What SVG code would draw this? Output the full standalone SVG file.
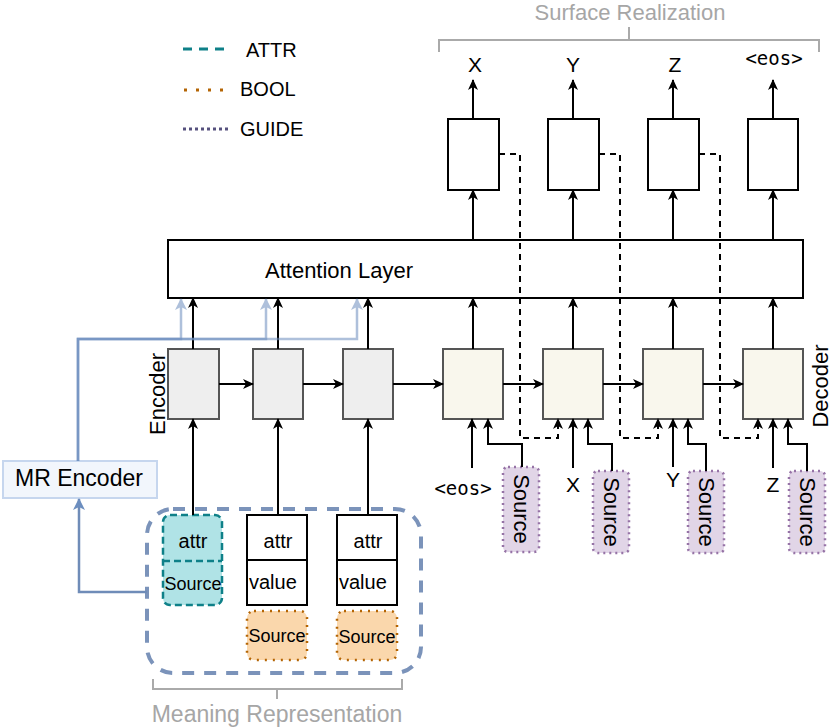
<svg xmlns="http://www.w3.org/2000/svg" width="832" height="728" viewBox="0 0 832 728">
<style>
text{font-family:"Liberation Sans",Arial,sans-serif;fill:#000}
.mono{font-family:"DejaVu Sans Mono","Liberation Mono",monospace}
.gray{fill:#a6a6a6}
.ln{fill:none;stroke:#000;stroke-width:2}
.dash{fill:none;stroke:#000;stroke-width:2;stroke-dasharray:6 5}
.enc{fill:#eeeeee;stroke:#555;stroke-width:2}
.dec{fill:#f9f7ed;stroke:#555;stroke-width:2}
.out{fill:#fff;stroke:#000;stroke-width:2}
.src{fill:#e1d5e7;stroke:#9673a6;stroke-width:2.5;stroke-dasharray:2 4}
.bool{fill:#fad7ac;stroke:#b46504;stroke-width:2.5;stroke-dasharray:2 6}
.attr{fill:#b0e3e6;stroke:#0e8088;stroke-width:2.5;stroke-dasharray:7 4}
.brk{fill:none;stroke:#aaaaaa;stroke-width:2}
.blue{fill:none;stroke:#6c8ebf;stroke-width:2.5}
</style>
<defs>
<marker id="ah" viewBox="0 0 11 10" refX="10" refY="5" markerWidth="11" markerHeight="10" markerUnits="userSpaceOnUse" orient="auto">
<path d="M0,0 L11,5 L0,10 L3,5 Z" fill="#000"/>
</marker>
<marker id="ahb" viewBox="0 0 12 12" refX="11" refY="6" markerWidth="12" markerHeight="12" markerUnits="userSpaceOnUse" orient="auto">
<path d="M0,0 L12,6 L0,12 L3,6 Z" fill="#6c8ebf"/>
</marker>
</defs>

<!-- Legend -->
<g id="legend">
<line x1="183" y1="49" x2="229" y2="49" stroke="#0e8088" stroke-width="3" stroke-dasharray="9 7"/>
<text x="246" y="57" font-size="20">ATTR</text>
<line x1="184" y1="90" x2="231" y2="90" stroke="#b46504" stroke-width="3" stroke-dasharray="3 9"/>
<text x="240" y="96" font-size="20">BOOL</text>
<line x1="183" y1="129" x2="231" y2="129" stroke="#56517e" stroke-width="3" stroke-dasharray="3 3"/>
<text x="240" y="136" font-size="20">GUIDE</text>
</g>

<!-- Surface Realization bracket -->
<g id="surface-realization">
<path class="brk" d="M439,52 V40 H819 V52 M629,40 V27"/>
<text class="gray" x="630" y="20" font-size="22" text-anchor="middle">Surface Realization</text>
</g>

<!-- Meaning Representation bracket -->
<g id="meaning-representation">
<path class="brk" d="M153,679 V689 H402 V679 M277,689 V699"/>
<text class="gray" x="277" y="722" font-size="23" text-anchor="middle">Meaning Representation</text>
</g>

<!-- Output labels -->
<g id="outputs">
<text x="475" y="72" font-size="21" text-anchor="middle">X</text>
<text x="573" y="72" font-size="21" text-anchor="middle">Y</text>
<text x="675" y="72" font-size="21" text-anchor="middle">Z</text>
<text class="mono" x="774" y="65" font-size="19" text-anchor="middle">&lt;eos&gt;</text>
</g>

<!-- Output boxes -->
<g id="out1"><rect class="out" x="448" y="119" width="51" height="71"/></g>
<g id="out2"><rect class="out" x="548" y="119" width="51" height="71"/></g>
<g id="out3"><rect class="out" x="648" y="119" width="51" height="71"/></g>
<g id="out4"><rect class="out" x="748" y="119" width="50" height="71"/></g>

<!-- Attention layer -->
<g id="attention"><rect class="out" x="168" y="240" width="635" height="58"/>
<text x="339" y="278" font-size="22" text-anchor="middle">Attention Layer</text></g>

<!-- Encoder boxes -->
<g id="enc1"><rect class="enc" x="168" y="349" width="51" height="70"/></g>
<g id="enc2"><rect class="enc" x="253" y="349" width="50" height="70"/></g>
<g id="enc3"><rect class="enc" x="343" y="349" width="50" height="70"/></g>
<text x="165" y="394" font-size="22" text-anchor="middle" transform="rotate(-90 165 394)">Encoder</text>

<!-- Decoder boxes -->
<g id="dec1"><rect class="dec" x="443" y="349" width="60" height="70"/></g>
<g id="dec2"><rect class="dec" x="543" y="349" width="60" height="70"/></g>
<g id="dec3"><rect class="dec" x="643" y="349" width="60" height="70"/></g>
<g id="dec4"><rect class="dec" x="743" y="349" width="60" height="70"/></g>
<text x="828" y="386" font-size="22" text-anchor="middle" transform="rotate(-90 828 386)">Decoder</text>

<!-- Decoder input labels -->
<g id="dec-inputs">
<text class="mono" x="463" y="495" font-size="19" text-anchor="middle">&lt;eos&gt;</text>
<text x="573" y="492" font-size="21" text-anchor="middle">X</text>
<text x="673" y="487" font-size="21" text-anchor="middle">Y</text>
<text x="773" y="492" font-size="21" text-anchor="middle">Z</text>
</g>

<!-- Source (guide) boxes -->
<g id="src1"><rect class="src" x="503" y="467" width="36" height="85" rx="5"/>
<text x="521" y="509" font-size="22" text-anchor="middle" dominant-baseline="central" transform="rotate(90 521 509)">Source</text></g>
<g id="src2"><rect class="src" x="593" y="471" width="36" height="82" rx="5"/>
<text x="611" y="512" font-size="22" text-anchor="middle" dominant-baseline="central" transform="rotate(90 611 512)">Source</text></g>
<g id="src3"><rect class="src" x="688" y="471" width="36" height="82" rx="5"/>
<text x="706" y="512" font-size="22" text-anchor="middle" dominant-baseline="central" transform="rotate(90 706 512)">Source</text></g>
<g id="src4"><rect class="src" x="789" y="471" width="36" height="82" rx="5"/>
<text x="807" y="512" font-size="22" text-anchor="middle" dominant-baseline="central" transform="rotate(90 807 512)">Source</text></g>

<!-- MR Encoder -->
<g id="mr-encoder"><rect x="3" y="461" width="154" height="37" fill="#f2f6fc" stroke="#c6d6ee" stroke-width="2"/>
<text x="79" y="486" font-size="23" text-anchor="middle">MR Encoder</text></g>

<!-- MR container -->
<g id="mr-container"><rect x="147" y="509" width="274" height="164" rx="26" fill="none" stroke="#7b93ba" stroke-width="4" stroke-dasharray="12 10"/></g>

<!-- MR items -->
<g id="attr-source">
<rect class="attr" x="163" y="515" width="59" height="90" rx="7"/>
<line x1="163" y1="561" x2="222" y2="561" stroke="#0e8088" stroke-width="2.5" stroke-dasharray="7 4"/>
<text x="193" y="548" font-size="20" text-anchor="middle">attr</text>
<text x="193" y="590" font-size="18" text-anchor="middle">Source</text>
</g>
<g id="attr-value-1">
<rect class="out" x="247" y="515" width="60" height="90"/>
<line class="ln" x1="247" y1="560" x2="307" y2="560"/>
<text x="278" y="548" font-size="20" text-anchor="middle">attr</text>
<text x="249" y="589" font-size="20">value</text>
</g>
<g id="attr-value-2">
<rect class="out" x="337" y="515" width="60" height="90"/>
<line class="ln" x1="337" y1="560" x2="397" y2="560"/>
<text x="368" y="548" font-size="20" text-anchor="middle">attr</text>
<text x="339" y="589" font-size="20">value</text>
</g>
<g id="bool-1"><rect class="bool" x="247" y="611" width="60" height="49" rx="7"/>
<text x="277" y="642" font-size="18" text-anchor="middle">Source</text></g>
<g id="bool-2"><rect class="bool" x="337" y="611" width="60" height="49" rx="7"/>
<text x="367" y="643" font-size="18" text-anchor="middle">Source</text></g>

<!-- Connectors -->
<g id="connectors">
<path class="ln" d="M473,119 V80" marker-end="url(#ah)"/>
<path class="ln" d="M573,119 V80" marker-end="url(#ah)"/>
<path class="ln" d="M673,119 V80" marker-end="url(#ah)"/>
<path class="ln" d="M773,119 V80" marker-end="url(#ah)"/>
<path class="ln" d="M473,240 V190" marker-end="url(#ah)"/>
<path class="ln" d="M573,240 V190" marker-end="url(#ah)"/>
<path class="ln" d="M673,240 V190" marker-end="url(#ah)"/>
<path class="ln" d="M773,240 V190" marker-end="url(#ah)"/>
<path class="ln" d="M193,349 V298" marker-end="url(#ah)"/>
<path class="ln" d="M278,349 V298" marker-end="url(#ah)"/>
<path class="ln" d="M368,349 V298" marker-end="url(#ah)"/>
<path class="ln" d="M473,349 V298" marker-end="url(#ah)"/>
<path class="ln" d="M573,349 V298" marker-end="url(#ah)"/>
<path class="ln" d="M673,349 V298" marker-end="url(#ah)"/>
<path class="ln" d="M773,349 V298" marker-end="url(#ah)"/>
<path class="ln" d="M219,384 H253" marker-end="url(#ah)"/>
<path class="ln" d="M303,384 H343" marker-end="url(#ah)"/>
<path class="ln" d="M393,384 H443" marker-end="url(#ah)"/>
<path class="ln" d="M503,384 H543" marker-end="url(#ah)"/>
<path class="ln" d="M603,384 H643" marker-end="url(#ah)"/>
<path class="ln" d="M703,384 H743" marker-end="url(#ah)"/>
<path class="ln" d="M193,515 V419" marker-end="url(#ah)"/>
<path class="ln" d="M278,515 V419" marker-end="url(#ah)"/>
<path class="ln" d="M368,515 V419" marker-end="url(#ah)"/>
<path class="ln" d="M472,468 V419" marker-end="url(#ah)"/>
<path class="ln" d="M573,468 V419" marker-end="url(#ah)"/>
<path class="ln" d="M673,467 V419" marker-end="url(#ah)"/>
<path class="ln" d="M773,468 V419" marker-end="url(#ah)"/>
<path class="ln" d="M522,467 V444 H488 V419" marker-end="url(#ah)"/>
<path class="ln" d="M612,471 V444 H588 V419" marker-end="url(#ah)"/>
<path class="ln" d="M706,471 V444 H688 V419" marker-end="url(#ah)"/>
<path class="ln" d="M807,471 V444 H788 V419" marker-end="url(#ah)"/>
<path class="dash" d="M499,154 H520 V438 H558 V419" marker-end="url(#ah)"/>
<path class="dash" d="M599,154 H620 V438 H658 V419" marker-end="url(#ah)"/>
<path class="dash" d="M699,154 H720 V438 H758 V419" marker-end="url(#ah)"/>
<g opacity="0.55"><path class="blue" d="M78,461 V339 H181 V299" marker-end="url(#ahb)"/></g>
<g opacity="0.55"><path class="blue" d="M78,461 V339 H266 V299" marker-end="url(#ahb)"/></g>
<g opacity="0.55"><path class="blue" d="M78,461 V339 H357 V299" marker-end="url(#ahb)"/></g>
<path d="M147,592 H79 V499" fill="none" stroke="#6f8cb8" stroke-width="2.5" marker-end="url(#ahb)"/>
</g>
</svg>
